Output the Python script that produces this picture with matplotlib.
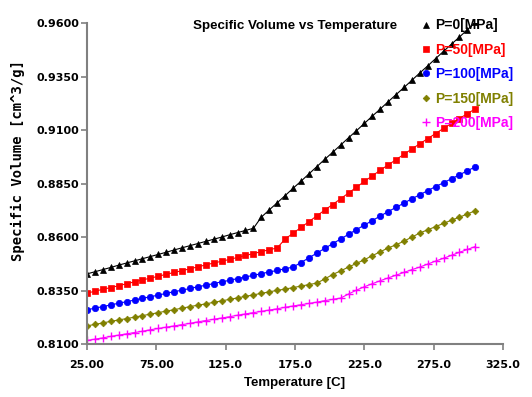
import matplotlib
matplotlib.use("Agg")
import matplotlib.pyplot as plt
from matplotlib.lines import Line2D

# ---------------- data ----------------
temperature = [25.0, 30.7, 36.4, 42.1, 47.9, 53.6, 59.3, 65.0, 70.7, 76.4,
               82.1, 87.9, 93.6, 99.3, 105.0, 110.7, 116.4, 122.1, 127.9, 133.6,
               139.3, 145.0, 150.7, 156.4, 162.1, 167.9, 173.6, 179.3, 185.0, 190.7,
               196.4, 202.1, 207.9, 213.6, 219.3, 225.0, 230.7, 236.4, 242.1, 247.9,
               253.6, 259.3, 265.0, 270.7, 276.4, 282.1, 287.9, 293.6, 299.3, 305.0]

p0 = [0.8429, 0.8439, 0.8449, 0.8459, 0.8470, 0.8480, 0.8490, 0.8500, 0.8510, 0.8520,
      0.8530, 0.8541, 0.8551, 0.8561, 0.8571, 0.8581, 0.8591, 0.8601, 0.8612, 0.8622,
      0.8632, 0.8642, 0.8694, 0.8728, 0.8761, 0.8795, 0.8829, 0.8862, 0.8896, 0.8930,
      0.8964, 0.8997, 0.9031, 0.9065, 0.9098, 0.9132, 0.9166, 0.9199, 0.9233, 0.9267,
      0.9300, 0.9334, 0.9368, 0.9401, 0.9435, 0.9469, 0.9503, 0.9536, 0.9570, 0.9604]

p50 = [0.8339, 0.8348, 0.8357, 0.8365, 0.8374, 0.8383, 0.8392, 0.8401, 0.8409, 0.8418,
       0.8427, 0.8436, 0.8444, 0.8453, 0.8462, 0.8471, 0.8480, 0.8488, 0.8497, 0.8506,
       0.8515, 0.8524, 0.8533, 0.8542, 0.8550, 0.8592, 0.8619, 0.8646, 0.8673, 0.8700,
       0.8727, 0.8753, 0.8780, 0.8807, 0.8834, 0.8861, 0.8887, 0.8913, 0.8938, 0.8963,
       0.8988, 0.9013, 0.9037, 0.9061, 0.9085, 0.9109, 0.9132, 0.9155, 0.9178, 0.9200]

p100 = [0.8261, 0.8269, 0.8276, 0.8284, 0.8292, 0.8299, 0.8307, 0.8315, 0.8322, 0.8330,
        0.8338, 0.8346, 0.8353, 0.8361, 0.8369, 0.8376, 0.8384, 0.8392, 0.8399, 0.8407,
        0.8415, 0.8422, 0.8430, 0.8438, 0.8445, 0.8453, 0.8461, 0.8482, 0.8504, 0.8526,
        0.8548, 0.8570, 0.8592, 0.8614, 0.8636, 0.8657, 0.8678, 0.8699, 0.8720, 0.8740,
        0.8760, 0.8780, 0.8799, 0.8818, 0.8837, 0.8855, 0.8874, 0.8892, 0.8911, 0.8929]

p150 = [0.8186, 0.8193, 0.8200, 0.8207, 0.8214, 0.8220, 0.8227, 0.8234, 0.8241, 0.8248,
        0.8255, 0.8262, 0.8269, 0.8276, 0.8283, 0.8289, 0.8296, 0.8303, 0.8310, 0.8317,
        0.8324, 0.8331, 0.8338, 0.8345, 0.8352, 0.8358, 0.8365, 0.8372, 0.8379, 0.8386,
        0.8405, 0.8426, 0.8443, 0.8461, 0.8478, 0.8495, 0.8514, 0.8532, 0.8550, 0.8565,
        0.8582, 0.8601, 0.8620, 0.8635, 0.8650, 0.8665, 0.8680, 0.8694, 0.8709, 0.8724]

p200 = [0.8118, 0.8124, 0.8130, 0.8137, 0.8143, 0.8149, 0.8155, 0.8161, 0.8168, 0.8174,
        0.8180, 0.8186, 0.8192, 0.8198, 0.8205, 0.8211, 0.8217, 0.8223, 0.8229, 0.8236,
        0.8242, 0.8248, 0.8254, 0.8260, 0.8266, 0.8273, 0.8279, 0.8285, 0.8291, 0.8297,
        0.8304, 0.8310, 0.8316, 0.8335, 0.8353, 0.8369, 0.8383, 0.8397, 0.8410, 0.8423,
        0.8436, 0.8449, 0.8461, 0.8475, 0.8489, 0.8502, 0.8516, 0.8530, 0.8543, 0.8557]

series_labels = ["P=0[MPa]", "P=50[MPa]", "P=100[MPa]", "P=150[MPa]", "P=200[MPa]"]

x_ticks = [25, 75, 125, 175, 225, 275, 325]
x_tick_labels = ["25.00", "75.00", "125.0", "175.0", "225.0", "275.0", "325.0"]
y_ticks = [0.81, 0.835, 0.86, 0.885, 0.91, 0.935, 0.96]
y_tick_labels = ["0.8100", "0.8350", "0.8600", "0.8850", "0.9100", "0.9350", "0.9600"]

title = "Specific Volume vs Temperature"
x_label = "Temperature [C]"
y_label = "Specific Volume [cm^3/g]"

# ---------------- style ----------------
colors = ["#000000", "#FF0000", "#0000FF", "#808000", "#FF00FF"]
markers = ["^", "s", "o", "D", "+"]
msizes = [5.0, 4.6, 4.6, 3.4, 6.0]
gray = "#808080"

W, H = 532, 397
fig = plt.figure(figsize=(W / 100, H / 100), dpi=100)
ax_left, ax_right, ax_top, ax_bottom = 87, 503, 23.3, 344.3
ax = fig.add_axes([ax_left / W, 1 - ax_bottom / H,
                   (ax_right - ax_left) / W, (ax_bottom - ax_top) / H])

all_series = [p0, p50, p100, p150, p200]
for vals, lab, c, m, ms in zip(all_series, series_labels, colors, markers, msizes):
    ax.plot(temperature, vals, color=c, lw=0.8, marker=m, ms=ms,
            mfc=c, mec=c, mew=1.0 if m == "+" else 0.5, label=lab)

ax.set_xlim(25, 325)
ax.set_ylim(0.81, 0.96)
ax.set_xticks(x_ticks)
ax.set_xticklabels(x_tick_labels)
ax.set_yticks(y_ticks)
ax.set_yticklabels(y_tick_labels)

for s in ["top", "right"]:
    ax.spines[s].set_visible(False)
for s in ["left", "bottom"]:
    ax.spines[s].set_color(gray)
    ax.spines[s].set_linewidth(1.5)

ax.tick_params(axis="both", direction="out", length=4, width=1.2, color=gray,
               labelcolor="black")
ax.tick_params(axis="y", pad=1.5)
ax.tick_params(axis="x", pad=7)
for lbl in ax.get_xticklabels() + ax.get_yticklabels():
    lbl.set_fontfamily("DejaVu Sans")
    lbl.set_fontweight("bold")
    lbl.set_fontsize(8)

ax.set_title(title, fontfamily="Liberation Sans", fontweight="bold", fontsize=9.6,
             y=0.9813, pad=0)
ax.set_xlabel(x_label, fontfamily="Liberation Sans", fontweight="bold", fontsize=9.5,
              labelpad=5)
ax.set_ylabel(y_label, fontfamily="DejaVu Sans Mono", fontweight="bold", fontsize=10)
ax.yaxis.label.set_verticalalignment("center")
ax.yaxis.set_label_coords((18.0 - ax_left) / (ax_right - ax_left),
                          (ax_bottom - 160.5) / (ax_bottom - ax_top))

handles = [Line2D([], [], linestyle="none", marker=m, ms=ms, color=c, mfc=c, mec=c,
                  mew=1.0 if m == "+" else 0.5)
           for c, m, ms in zip(colors, markers, msizes)]
leg = ax.legend(handles, series_labels, loc="upper left",
                bbox_to_anchor=((421.8 - ax_left) / (ax_right - ax_left),
                                (ax_bottom - 18.5) / (ax_bottom - ax_top)),
                frameon=False, borderpad=0, borderaxespad=0, handlelength=0.6,
                handletextpad=0.35, labelspacing=0.75, numpoints=1,
                prop=dict(family="Liberation Sans", weight="bold", size=10),
                labelcolor="linecolor")

fig.savefig("out.png", dpi=100, facecolor="white")
